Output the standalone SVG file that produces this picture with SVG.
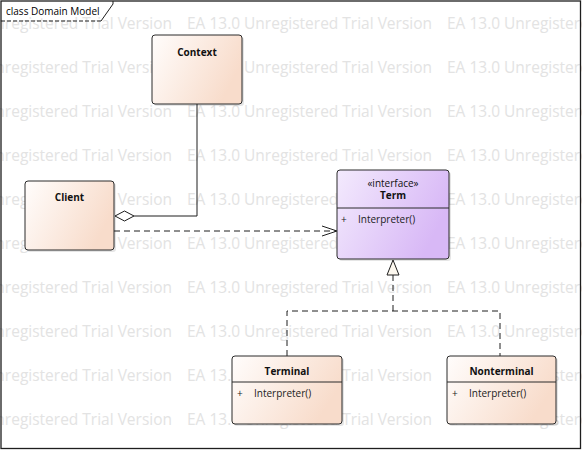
<svg xmlns="http://www.w3.org/2000/svg" xmlns:xlink="http://www.w3.org/1999/xlink" width="582" height="450" viewBox="0 0 582 450">
  <defs>
    <linearGradient id="gClass" x1="0" y1="0" x2="1" y2="0.4">
      <stop offset="0" stop-color="#fffdfc"/>
      <stop offset="1" stop-color="#f8dccb"/>
    </linearGradient>
    <linearGradient id="gIface" x1="0" y1="0" x2="1" y2="0.4">
      <stop offset="0" stop-color="#f3eafd"/>
      <stop offset="1" stop-color="#d8b8f6"/>
    </linearGradient>
    <text id="wm" class="wm" textLength="245" lengthAdjust="spacingAndGlyphs">EA 13.0 Unregistered Trial Version</text>
    <style>
      .wm { font-family: "Open Sans", "Noto Sans", "Liberation Sans", sans-serif; font-size: 16px; fill: #e3e3e3; }
      .box { stroke: #2b2b2b; stroke-width: 1; fill: url(#gClass); }
      .iface { stroke: #2b2b2b; stroke-width: 1; fill: url(#gIface); }
      .shadow { fill: #000; opacity: 0.1; }
      .div { stroke: #2b2b2b; stroke-width: 1; }
      .title { font-family: "Open Sans", "Noto Sans", "Liberation Sans", sans-serif; font-size: 10px; font-weight: bold; fill: #111; text-anchor: middle; }
      .stereo { font-family: "Open Sans", "Noto Sans", "Liberation Sans", sans-serif; font-size: 10px; fill: #111; text-anchor: middle; }
      .op { font-family: "Open Sans", "Noto Sans", "Liberation Sans", sans-serif; font-size: 10px; fill: #222; }
      .frame-label { font-family: "Open Sans", "Noto Sans", "Liberation Sans", sans-serif; font-size: 10px; fill: #000; }
      .line { fill: none; stroke: #1e1e1e; stroke-width: 1; }
      .dash { fill: none; stroke: #1e1e1e; stroke-width: 1; stroke-dasharray: 6 4; }
    </style>
  </defs>

  <rect x="0" y="0" width="582" height="450" fill="#ffffff"/>

  <g id="watermark">
    <use xlink:href="#wm" x="-73" y="29"/><use xlink:href="#wm" x="187" y="29"/><use xlink:href="#wm" x="447" y="29"/>
    <use xlink:href="#wm" x="-73" y="73"/><use xlink:href="#wm" x="187" y="73"/><use xlink:href="#wm" x="447" y="73"/>
    <use xlink:href="#wm" x="-73" y="117"/><use xlink:href="#wm" x="187" y="117"/><use xlink:href="#wm" x="447" y="117"/>
    <use xlink:href="#wm" x="-73" y="161"/><use xlink:href="#wm" x="187" y="161"/><use xlink:href="#wm" x="447" y="161"/>
    <use xlink:href="#wm" x="-73" y="205"/><use xlink:href="#wm" x="187" y="205"/><use xlink:href="#wm" x="447" y="205"/>
    <use xlink:href="#wm" x="-73" y="249"/><use xlink:href="#wm" x="187" y="249"/><use xlink:href="#wm" x="447" y="249"/>
    <use xlink:href="#wm" x="-73" y="293"/><use xlink:href="#wm" x="187" y="293"/><use xlink:href="#wm" x="447" y="293"/>
    <use xlink:href="#wm" x="-73" y="337"/><use xlink:href="#wm" x="187" y="337"/><use xlink:href="#wm" x="447" y="337"/>
    <use xlink:href="#wm" x="-73" y="381"/><use xlink:href="#wm" x="187" y="381"/><use xlink:href="#wm" x="447" y="381"/>
    <use xlink:href="#wm" x="-73" y="425"/><use xlink:href="#wm" x="187" y="425"/><use xlink:href="#wm" x="447" y="425"/>
  </g>

  <g id="frame">
    <rect x="1" y="1" width="579.5" height="447.5" fill="none" stroke="#1e1e1e" stroke-width="1.3"/>
    <path d="M1,21 H101" fill="none" stroke="#1e1e1e" stroke-width="1" stroke-dasharray="4 2"/>
    <path d="M101,21 L113,4 V1" fill="none" stroke="#1e1e1e" stroke-width="1"/>
    <text class="frame-label" x="6" y="14.5">class Domain Model</text>
  </g>

  <g id="connectors">
    <path class="line" d="M197,104 V216 H134"/>
    <polygon points="115,216 124.5,211 134,216 124.5,221" fill="#ffffff" stroke="#1e1e1e" stroke-width="1"/>
    <path class="dash" d="M114,231 H336"/>
    <polyline class="line" points="322,226 337,231 322,236"/>
    <path class="dash" d="M287,356 V311 H500 V356"/>
    <path class="dash" d="M393,311 V275"/>
    <polygon points="393,260 387,275 399,275" fill="#fdf8ef" stroke="#1e1e1e" stroke-width="1"/>
  </g>

  <g id="Context">
    <rect class="shadow" x="154" y="37" width="90" height="69" rx="3"/>
    <rect class="box" x="152" y="35" width="90" height="69" rx="3"/>
    <text class="title" x="197" y="55.5">Context</text>
  </g>

  <g id="Client">
    <rect class="shadow" x="27" y="183" width="89" height="69" rx="3"/>
    <rect class="box" x="25" y="181" width="89" height="69" rx="3"/>
    <text class="title" x="69.5" y="200.5">Client</text>
  </g>

  <g id="Term">
    <rect class="shadow" x="339" y="172" width="112" height="89" rx="3"/>
    <rect class="iface" x="337" y="170" width="112" height="89" rx="3"/>
    <text class="stereo" x="393" y="186.5">«interface»</text>
    <text class="title" x="393" y="199">Term</text>
    <line class="div" x1="337" y1="208" x2="449" y2="208"/>
    <text class="op" x="341" y="223">+</text>
    <text class="op" x="358" y="223">Interpreter()</text>
  </g>

  <g id="Terminal">
    <rect class="shadow" x="234" y="358" width="110" height="68" rx="3"/>
    <rect class="box" x="232" y="356" width="110" height="68" rx="3"/>
    <text class="title" x="287" y="374.5">Terminal</text>
    <line class="div" x1="232" y1="382" x2="342" y2="382"/>
    <text class="op" x="237" y="396.5">+</text>
    <text class="op" x="254" y="396.5">Interpreter()</text>
  </g>

  <g id="Nonterminal">
    <rect class="shadow" x="449" y="358" width="109" height="68" rx="3"/>
    <rect class="box" x="447" y="356" width="109" height="68" rx="3"/>
    <text class="title" x="501.5" y="374.5">Nonterminal</text>
    <line class="div" x1="447" y1="382" x2="556" y2="382"/>
    <text class="op" x="452" y="396.5">+</text>
    <text class="op" x="469" y="396.5">Interpreter()</text>
  </g>
</svg>
